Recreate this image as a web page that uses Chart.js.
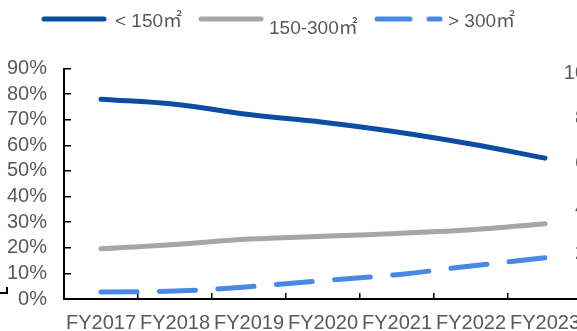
<!DOCTYPE html>
<html>
<head>
<meta charset="utf-8">
<script src="https://cdn.jsdelivr.net/npm/chart.js@4.4.1/dist/chart.umd.min.js"></script>
<style>
  html, body { margin: 0; padding: 0; background: #fff; overflow: hidden; }
  #wrap { width: 640px; height: 331px; }
</style>
</head>
<body>
<div id="wrap"><canvas id="c" width="640" height="331"></canvas></div>
<script>
// Share of units by floor area, fiscal years 2017-2023 (%)
const categories = ['FY2017', 'FY2018', 'FY2019', 'FY2020', 'FY2021', 'FY2022', 'FY2023'];
const seriesNames = ['< 150㎡', '150-300㎡', '> 300㎡'];
const smallShare = [78, 76, 72, 69, 65.2, 60.5, 55];
const midShare = [19.6, 21.3, 23.4, 24.5, 25.6, 27, 29.4];
const largeShare = [2.7, 3.1, 4.8, 7.2, 9.5, 12.9, 16.1];
const leftTicks = [0, 10, 20, 30, 40, 50, 60, 70, 80, 90];
const rightTicks = [0, 20, 40, 60, 80, 100];

const FONT = '"Liberation Sans", Arial, sans-serif';
const LEGEND_FONT = '"Liberation Sans", Arial, "Noto Sans CJK SC", sans-serif';
const TEXT = '#595959';
const DARK = '#0C4DA2';
const GREY = '#A6A6A6';
const LIGHT = '#4A88E6';

// Line legend drawn across the top
const lineLegend = {
  id: 'lineLegend',
  afterDraw(chart) {
    const ctx = chart.ctx;
    const slots = [
      { x0: 44, x1: 104, y: 19, tx: 115, ty: 27 },
      { x0: 201, x1: 261, y: 19, tx: 269, ty: 34 },
      { x0: 377, x1: 440, y: 19, tx: 448, ty: 27 }
    ];
    const legendDash = [[], [], [33, 19]];
    chart.data.datasets.forEach((ds, i) => {
      const s = slots[i];
      ctx.save();
      ctx.strokeStyle = ds.borderColor;
      ctx.lineWidth = 5;
      ctx.lineCap = 'round';
      ctx.setLineDash(legendDash[i]);
      ctx.beginPath();
      ctx.moveTo(s.x0, s.y);
      ctx.lineTo(s.x1, s.y);
      ctx.stroke();
      ctx.setLineDash([]);
      ctx.fillStyle = TEXT;
      ctx.font = '19px ' + LEGEND_FONT;
      ctx.textBaseline = 'alphabetic';
      ctx.textAlign = 'left';
      ctx.fillText(ds.label, s.tx, s.ty);
      ctx.restore();
    });
  }
};

// Small corner bracket at the lower left edge
const cornerMark = {
  id: 'cornerMark',
  afterDraw(chart) {
    const ctx = chart.ctx;
    const b = chart.chartArea.bottom;
    ctx.save();
    ctx.strokeStyle = '#000';
    ctx.lineWidth = 2;
    ctx.beginPath();
    ctx.moveTo(0, b - 6);
    ctx.lineTo(7, b - 6);
    ctx.lineTo(7, b - 12);
    ctx.stroke();
    ctx.restore();
  }
};

const lineBase = {
  borderWidth: 5,
  borderCapStyle: 'round',
  borderJoinStyle: 'round',
  tension: 0.4,
  pointRadius: 0,
  pointHoverRadius: 0,
  fill: false,
  yAxisID: 'y'
};

// fixed axis thickness, no extra label overhang in the layout
function fixWidth(w) {
  return function (s) {
    s.width = w;
    s.paddingTop = 0;
    s.paddingBottom = 0;
  };
}

new Chart(document.getElementById('c'), {
  type: 'line',
  data: {
    labels: categories,
    datasets: [
      Object.assign({}, lineBase, { label: seriesNames[0], data: smallShare, borderColor: DARK, backgroundColor: DARK }),
      Object.assign({}, lineBase, { label: seriesNames[1], data: midShare, borderColor: GREY, backgroundColor: GREY }),
      Object.assign({}, lineBase, { label: seriesNames[2], data: largeShare, borderColor: LIGHT, backgroundColor: LIGHT, borderDash: [36, 22.5] })
    ]
  },
  options: {
    responsive: false,
    animation: false,
    devicePixelRatio: 1,
    layout: { padding: { top: 68.5, left: 0, right: 25, bottom: 0 } },
    plugins: { legend: { display: false }, tooltip: { enabled: false } },
    scales: {
      x: {
        type: 'category',
        offset: true,
        grid: { display: true, drawOnChartArea: false, drawTicks: true, tickLength: -6, color: '#000', lineWidth: 1.5, offset: true },
        border: { display: true, color: '#000', width: 2 },
        ticks: { color: TEXT, font: { family: FONT, size: 20 }, padding: 18, maxRotation: 0, autoSkip: false },
        afterFit(s) { s.height = 32; s.paddingLeft = 0; s.paddingRight = 0; }
      },
      y: {
        position: 'left',
        min: 0,
        max: 90,
        afterBuildTicks(s) { s.ticks = leftTicks.map(v => ({ value: v })); },
        grid: { display: true, drawOnChartArea: false, drawTicks: true, tickLength: -7, color: '#000', lineWidth: 1.5 },
        border: { display: true, color: '#000', width: 2 },
        ticks: { color: TEXT, font: { family: FONT, size: 20 }, padding: 24, autoSkip: false, callback: v => v + '%' },
        afterFit: fixWidth(64)
      },
      y2: {
        position: 'right',
        min: 0,
        max: 102.2,
        afterBuildTicks(s) { s.ticks = rightTicks.map(v => ({ value: v })); },
        grid: { display: false, drawTicks: false },
        border: { display: false },
        ticks: { color: TEXT, font: { family: FONT, size: 20 }, mirror: true, padding: 33, autoSkip: false, callback: v => v + '%' },
        afterFit: fixWidth(33)
      }
    }
  },
  plugins: [lineLegend, cornerMark]
});
</script>
</body>
</html>
